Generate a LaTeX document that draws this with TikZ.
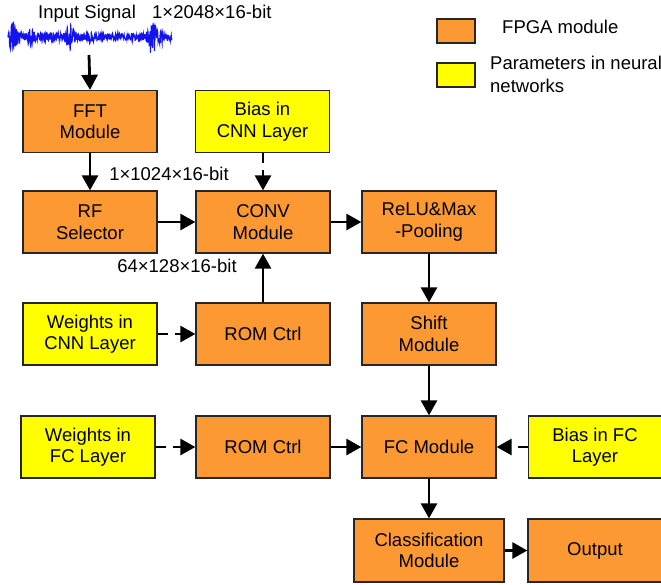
\documentclass[tikz,border=0pt]{standalone}
\usepackage{fontspec}
\setmainfont{Liberation Sans}
\usetikzlibrary{arrows.meta}
\definecolor{fpga}{RGB}{253,153,51}
\definecolor{param}{RGB}{255,255,0}
\definecolor{sig}{RGB}{20,20,240}
\tikzset{
  blk/.style={draw=black!85, line width=1.3pt, minimum width=134pt, minimum height=62pt,
    inner sep=0pt, align=center, font=\fontsize{18.5}{21.5}\selectfont},
  fpgabox/.style={blk, fill=fpga},
  parbox/.style={blk, fill=param},
  lbl/.style={inner sep=0pt, font=\fontsize{18.5}{21.5}\selectfont},
  conn/.style={line width=2.8pt, -{Triangle[length=15pt,width=16pt]}},
  dconn/.style={conn, dash pattern=on 10pt off 7pt},
}
\begin{document}
\begin{tikzpicture}[x=1pt,y=-1pt]
\useasboundingbox (0,0) rectangle (661,584);
% waveform
\pgfmathsetseed{11}
\draw[sig, line width=1.1pt]
  plot[domain=8:172, samples=600, smooth=false]
  (\x, {37 + (3.5 + 15*max(0,1-abs(\x-13)/7) + 7*max(0,1-abs(\x-31)/5)
        + 3*max(0,1-abs(\x-52)/4) + 11*max(0,1-abs(\x-70)/6)
        + 3*max(0,1-abs(\x-91)/5) + 17*max(0,1-abs(\x-152)/6)
        + 5*max(0,1-abs(\x-160)/6))*rand});
\coordinate (sigout) at (89,55);
\node[lbl, anchor=base west] (insig) at (38,18) {Input Signal};
\node[lbl, anchor=base west] (insize) at (152,18) {1×2048×16-bit};
% legend
\node[draw=black!85, line width=1.3pt, fill=fpga, minimum width=38pt, minimum height=24pt, inner sep=0pt] (legA) at (456,31) {};
\node[draw=black!85, line width=1.3pt, fill=param, minimum width=38pt, minimum height=24pt, inner sep=0pt] (legB) at (456,75) {};
\node[lbl, anchor=base west] (legAt) at (502,33) {FPGA module};
\node[lbl, anchor=north west, align=left, font=\fontsize{18.5}{22.5}\selectfont] (legBt) at (490,56) {Parameters in neural\\networks};
% blocks
\node[fpgabox] (fft) at (90,121.5) {FFT\\Module};
\node[parbox] (bcnn) at (262.5,121.5) {Bias in\\CNN Layer};
\node[fpgabox] (rf) at (90,222) {RF\\Selector};
\node[fpgabox] (conv) at (263,222) {CONV\\Module};
\node[fpgabox] (relu) at (429,222) {ReLU\&Max\\-Pooling};
\node[parbox] (wcnn) at (90,334) {Weights in\\CNN Layer};
\node[fpgabox] (rom1) at (263,334) {ROM Ctrl};
\node[fpgabox] (shift) at (429,334) {Shift\\Module};
\node[parbox] (wfc) at (88,447) {Weights in\\FC Layer};
\node[fpgabox] (rom2) at (263,447) {ROM Ctrl};
\node[fpgabox] (fc) at (429,447) {FC Module};
\node[parbox, minimum width=133pt] (bfc) at (595,447) {Bias in FC\\Layer};
\node[fpgabox, minimum width=150pt, minimum height=63pt] (cls) at (429,550.5) {Classification\\Module};
\node[fpgabox, minimum height=63pt] (out) at (595,550.5) {Output};
% labels
\node[lbl] (l1) at (169,174) {1×1024×16-bit};
\node[lbl] (l2) at (177,266) {64×128×16-bit};
% connectors
\draw[conn] (sigout) -- (fft.north);
\draw[conn] (fft) -- (rf);
\draw[dconn] (bcnn.south -| conv.north) -- (conv.north);
\draw[conn] (rf) -- (conv);
\draw[conn] (conv) -- (relu);
\draw[conn] (rom1) -- (conv);
\draw[conn] (relu) -- (shift);
\draw[dconn] (wcnn) -- (rom1);
\draw[conn] (shift) -- (fc);
\draw[dconn] (wfc) -- (rom2);
\draw[conn] (rom2) -- (fc);
\draw[dconn] (bfc) -- (fc);
\draw[conn] (fc) -- (cls);
\draw[conn] (cls) -- (out);
\end{tikzpicture}
\end{document}
